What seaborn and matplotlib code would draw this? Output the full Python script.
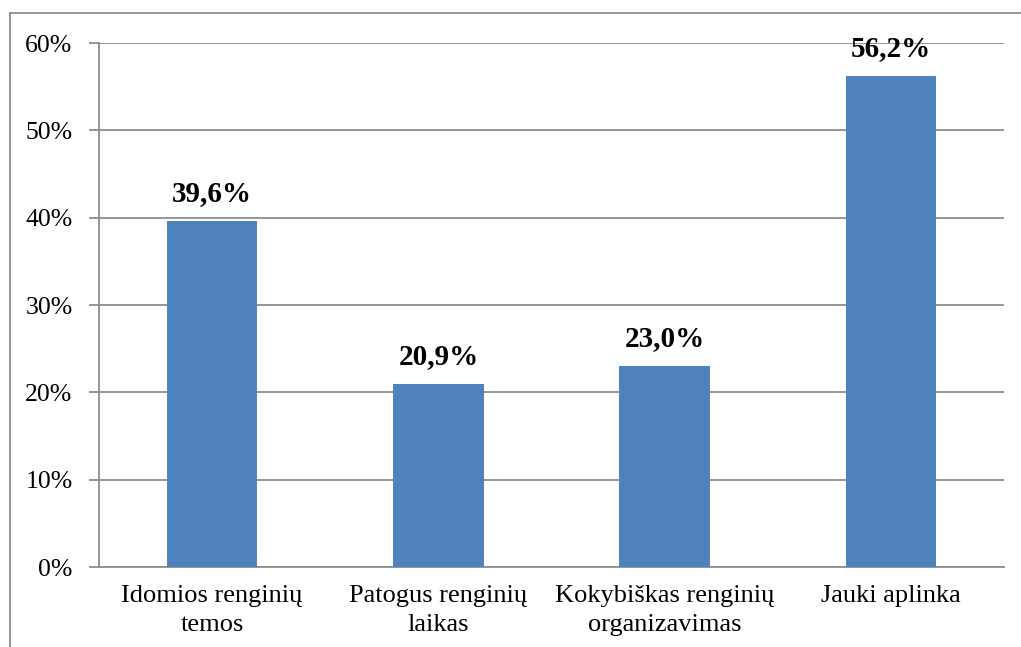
import matplotlib
matplotlib.use("Agg")
import matplotlib.pyplot as plt
import seaborn as sns
import pandas as pd
from matplotlib.lines import Line2D

categories = ["Idomios renginių\ntemos", "Patogus renginių\nlaikas",
              "Kokybiškas renginių\norganizavimas", "Jauki aplinka"]
values = [39.6, 20.9, 23.0, 56.2]
labels = ["39,6%", "20,9%", "23,0%", "56,2%"]
yticks = [0, 10, 20, 30, 40, 50, 60]

sns.set_style("white")
plt.rcParams['font.family'] = ['Liberation Serif', 'DejaVu Serif']
plt.rcParams['text.color'] = 'black'
plt.rcParams['xtick.labelcolor'] = 'black'
plt.rcParams['ytick.labelcolor'] = 'black'

df = pd.DataFrame({"cat": categories, "val": values})

fig = plt.figure(figsize=(10.21, 6.47), dpi=100)
ax = fig.add_axes([99/1021, 1 - 567/647, (1004-99)/1021, (567-43)/647])

sns.barplot(data=df, x="cat", y="val", color="#4F81BD", width=0.4,
            saturation=1, linewidth=0, ax=ax, zorder=3)

grid_col = "#8c8c8c"
ax.set_ylim(0, 60)
ax.set_xlim(-0.5, 3.5)
ax.set_yticks(yticks)
ax.set_yticklabels([f"{t}%" for t in yticks], fontsize=18.5)
ax.yaxis.grid(True, color=grid_col, linewidth=1.3, zorder=0)
ax.set_axisbelow(True)
ax.set_xlabel("")
ax.set_ylabel("")
for s in ["top", "right"]:
    ax.spines[s].set_visible(False)
for s in ["left", "bottom"]:
    ax.spines[s].set_color(grid_col)
    ax.spines[s].set_linewidth(1.3)

# ticks at category boundaries
ax.set_xticks([-0.5, 0.5, 1.5, 2.5, 3.5], minor=True)
ax.tick_params(axis="x", which="minor", length=7, width=1.3, color=grid_col)
ax.tick_params(axis="x", which="major", length=0, labelsize=19, pad=13)
ax.tick_params(axis="y", length=7, width=1.3, color=grid_col, pad=12)
ax.tick_params(axis="y", which="major", left=True)
for t in ax.get_xticklabels():
    t.set_linespacing(1.4)

for i, (v, lab) in enumerate(zip(values, labels)):
    ax.text(i, v + 1.6, lab, ha="center", va="bottom", fontsize=21,
            fontweight="bold")

# outer chart frame (left and top edges visible)
fig.add_artist(Line2D([10/1021, 10/1021], [0, 1 - 13/647], color=grid_col,
                      linewidth=1.3, transform=fig.transFigure))
fig.add_artist(Line2D([10/1021, 1], [1 - 13/647, 1 - 13/647], color=grid_col,
                      linewidth=1.3, transform=fig.transFigure))

fig.savefig("out.png", dpi=100)
